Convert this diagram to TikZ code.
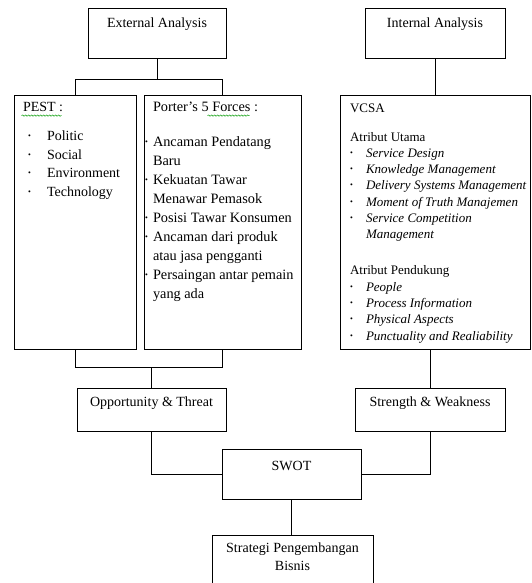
\documentclass[tikz,border=0pt]{standalone}
\usepackage{fontspec}
\setmainfont{Liberation Serif}
\usetikzlibrary{decorations.pathmorphing}
\tikzset{
  box/.style={draw, line width=0.8pt, inner sep=0pt, font=\fontsize{14}{18}\selectfont},
  link/.style={line width=0.8pt},
  squiggle/.style={draw=green!60!black, line width=0.5pt, decorate,
    decoration={snake, amplitude=0.7pt, segment length=3pt}}
}
\newcommand{\bul}[1]{\makebox[#1][l]{\raisebox{2pt}{\footnotesize\textbullet}}}
\begin{document}
\begin{tikzpicture}[x=1pt, y=-1pt]
\path[use as bounding box, clip] (0,0) rectangle (531,583);
% top row
\node[box] (ext) at (157,33) {\parbox[c][50pt][t]{138pt}{\centering\rule{0pt}{19.5pt}External Analysis}};
\node[box] (int) at (435,33) {\parbox[c][50pt][t]{140pt}{\centering\rule{0pt}{19.5pt}Internal Analysis}};
% analysis boxes
\node[box] (pest) at (75,222) {\parbox[c][254pt][t]{122pt}{\fontsize{14}{18.5}\selectfont
  \rule{0pt}{16.5pt}\hspace*{9pt}PEST :\\[10.5pt]
  \hspace*{14pt}\bul{19pt}Politic\\
  \hspace*{14pt}\bul{19pt}Social\\
  \hspace*{14pt}\bul{19pt}Environment\\
  \hspace*{14pt}\bul{19pt}Technology}};
\node[box] (porter) at (222.5,222) {\parbox[c][254pt][t]{157pt}{\fontsize{14.3}{19}\selectfont
  \rule{0pt}{16.5pt}\hspace*{9pt}Porter’s 5 Forces :\\[16pt]
  \hspace*{1pt}\bul{8pt}Ancaman Pendatang\\
  \hspace*{9pt}Baru\\
  \hspace*{1pt}\bul{8pt}Kekuatan Tawar\\
  \hspace*{9pt}Menawar Pemasok\\
  \hspace*{1pt}\bul{8pt}Posisi Tawar Konsumen\\
  \hspace*{1pt}\bul{8pt}Ancaman dari produk\\
  \hspace*{9pt}atau jasa pengganti\\
  \hspace*{1pt}\bul{8pt}Persaingan antar pemain\\
  \hspace*{9pt}yang ada}};
\node[box] (vcsa) at (435,222) {\parbox[c][254pt][t]{190pt}{\fontsize{13}{16.3}\selectfont
  \rule{0pt}{17pt}\hspace*{10pt}VCSA\\[12.7pt]
  \hspace*{10pt}Atribut Utama\\
  \hspace*{10pt}\bul{16pt}\textit{Service Design}\\
  \hspace*{10pt}\bul{16pt}\textit{Knowledge Management}\\
  \hspace*{10pt}\bul{16pt}\textit{Delivery Systems Management}\\
  \hspace*{10pt}\bul{16pt}\textit{Moment of Truth Manajemen}\\
  \hspace*{10pt}\bul{16pt}\textit{Service Competition}\\
  \hspace*{26pt}\textit{Management}\\[19.7pt]
  \hspace*{10pt}Atribut Pendukung\\
  \hspace*{10pt}\bul{16pt}\textit{People}\\
  \hspace*{10pt}\bul{16pt}\textit{Process Information}\\
  \hspace*{10pt}\bul{16pt}\textit{Physical Aspects}\\
  \hspace*{10pt}\bul{16pt}\textit{Punctuality and Realiability}}};
% results
\node[box] (opp) at (151.5,409.5) {\parbox[c][43pt][t]{149pt}{\centering\rule{0pt}{18.5pt}Opportunity \& Threat}};
\node[box] (str) at (430,409.5) {\parbox[c][43pt][t]{150pt}{\centering\rule{0pt}{18.5pt}Strength \& Weakness}};
\node[box] (swot) at (291.5,474) {\parbox[c][50pt][t]{139pt}{\centering\rule{0pt}{21pt}SWOT}};
\node[box] (strat) at (292.5,563) {\parbox[c][56pt][t]{161pt}{\centering\rule{0pt}{17.5pt}Strategi Pengembangan\\Bisnis}};
% connectors
\draw[link] (ext.south) -- ++(0,21) coordinate (extj);
\draw[link] (pest.north) |- (extj) -| (porter.north);
\draw[link] (int.south) -- (vcsa.north);
\coordinate (optj) at ([yshift=20pt]opp.north);
\draw[link] (pest.south) |- (optj) -| (porter.south);
\draw[link] (optj) -- (opp.north);
\draw[link] (vcsa.south -| str.north) -- (str.north);
\draw[link] (opp.south) |- (swot.west);
\draw[link] (str.south) |- (swot.east);
\draw[link] (swot.south) -- (swot.south |- strat.north);
% spelling marks
\draw[squiggle] ([shift={(8,21)}]pest.north west) -- ++(40,0);
\draw[squiggle] ([shift={(64,21)}]porter.north west) -- ++(42,0);
\end{tikzpicture}
\end{document}
